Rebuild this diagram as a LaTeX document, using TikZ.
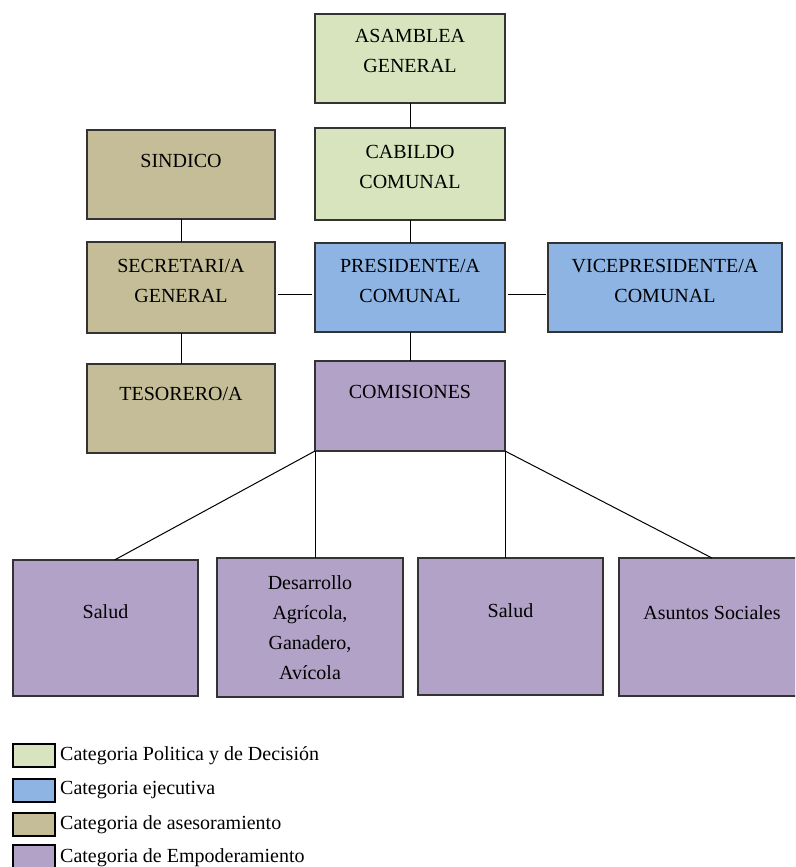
\documentclass[tikz,border=0pt]{standalone}
\usepackage{fontspec}
\setmainfont{Liberation Serif}
\usetikzlibrary{calc,shadows}
\definecolor{cgreen}{HTML}{D7E4BD}
\definecolor{cblue}{HTML}{8EB4E3}
\definecolor{ctan}{HTML}{C4BD97}
\definecolor{cpurple}{HTML}{B3A2C7}
\begin{document}
\begin{tikzpicture}[x=1pt,y=-1pt,
  box/.style={draw=black!80, line width=1.1pt, inner sep=0pt, outer sep=0pt,
    drop shadow={shadow xshift=1pt, shadow yshift=-1.2pt, opacity=0.35}},
  txt/.style={font=\fontsize{20}{30}\selectfont, align=center, inner sep=0pt, anchor=base},
  conn/.style={draw=black, line width=1pt},
  legbox/.style={draw=black, line width=1.4pt, minimum width=42pt, minimum height=23pt, inner sep=0pt},
  legtxt/.style={font=\fontsize{20}{22}\selectfont, anchor=west, inner sep=0pt}]
\useasboundingbox (0,0) rectangle (795,867);
\clip (0,0) rectangle (795,867);
\fill[white] (0,0) rectangle (795,867);

% boxes
\node[box, fill=cgreen, minimum width=190pt, minimum height=89pt] (asam) at (410,58.5) {};
\node[box, fill=cgreen, minimum width=190pt, minimum height=92pt] (cab) at (410,174) {};
\node[box, fill=ctan, minimum width=188pt, minimum height=89pt] (sind) at (181,174.5) {};
\node[box, fill=ctan, minimum width=188pt, minimum height=91pt] (sec) at (181,287.5) {};
\node[box, fill=cblue, minimum width=190pt, minimum height=89pt] (pres) at (410,287.5) {};
\node[box, fill=cblue, minimum width=234pt, minimum height=89pt] (vice) at (665,287.5) {};
\node[box, fill=ctan, minimum width=188pt, minimum height=89pt] (tes) at (181,408.5) {};
\node[box, fill=cpurple, minimum width=190pt, minimum height=90pt] (com) at (410,406) {};
\node[box, fill=cpurple, minimum width=185pt, minimum height=136pt] (s1) at (105.5,628) {};
\node[box, fill=cpurple, minimum width=186pt, minimum height=139pt] (des) at (310,627.5) {};
\node[box, fill=cpurple, minimum width=185pt, minimum height=137pt] (s2) at (510.5,626.5) {};
\node[box, fill=cpurple, minimum width=186pt, minimum height=138pt] (as) at (712,627) {};

% texts (anchor = baseline of last line)
\node[txt] (tasam) at (410,73) {ASAMBLEA\\GENERAL};
\node[txt] (tcab) at (410,188) {CABILDO\\COMUNAL};
\node[txt] (tsind) at (181,167) {SINDICO};
\node[txt] (tsec) at (181,302) {SECRETARI/A\\GENERAL};
\node[txt] (tpres) at (410,302) {PRESIDENTE/A\\COMUNAL};
\node[txt] (tvice) at (665,302) {VICEPRESIDENTE/A\\COMUNAL};
\node[txt] (ttes) at (181,400) {TESORERO/A};
\node[txt] (tcom) at (410,398) {COMISIONES};
\node[txt] (ts1) at (105.5,618) {Salud};
\node[txt] (tdes) at (310,679) {Desarrollo\\Agrícola,\\Ganadero,\\Avícola};
\node[txt] (ts2) at (510.5,617) {Salud};
\node[txt] (tas) at (712,619) {Asuntos Sociales};

% connectors
\draw[conn] (asam) -- (cab);
\draw[conn] (cab) -- (pres);
\draw[conn] (pres) -- (com);
\draw[conn] (sind) -- (sec);
\draw[conn] (sec) -- (tes);
\draw[conn] ($(sec.east)+(3,7)$) -- ($(pres.west)+(-3,7)$);
\draw[conn] ($(pres.east)+(3,7)$) -- ($(vice.west)+(-2,7)$);
\draw[conn] (com.south west) -- ($(s1.north)+(9,0)$);
\draw[conn] (com.south west) -- (com.south west |- des.north);
\draw[conn] (com.south east) -- (com.south east |- s2.north);
\draw[conn] (com.south east) -- (as.north);

% legend
\node[legbox, fill=cgreen] (l1) at (34,755.5) {};
\node[legbox, fill=cblue] (l2) at (34,790.5) {};
\node[legbox, fill=ctan] (l3) at (34,824.5) {};
\node[legbox, fill=cpurple] (l4) at (34,856.5) {};
\node[legtxt] (lt1) at (60,755.5) {Categoria Politica y de Decisión};
\node[legtxt] (lt2) at (60,790.5) {Categoria ejecutiva};
\node[legtxt] (lt3) at (60,824.5) {Categoria de asesoramiento};
\node[legtxt] (lt4) at (60,858) {Categoria de Empoderamiento};
\end{tikzpicture}
\end{document}
